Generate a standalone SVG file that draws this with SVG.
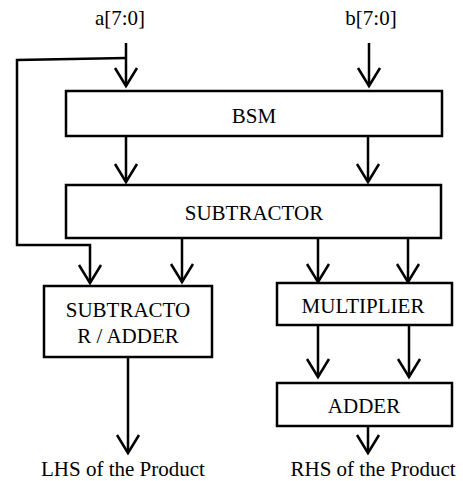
<svg xmlns="http://www.w3.org/2000/svg" width="463" height="481" viewBox="0 0 463 481">
<defs>
<style>
.box{fill:#fff;stroke:#000;stroke-width:2.5}
.ln{fill:none;stroke:#000;stroke-width:2.5}
text{font-family:'Liberation Serif','Times New Roman',serif;font-size:21px;fill:#000;text-anchor:middle}
</style>
<marker id="ah" markerUnits="userSpaceOnUse" markerWidth="30" markerHeight="30" refX="0" refY="0" orient="auto" overflow="visible">
<path d="M-18,-11 L0,0 L-18,11" fill="none" stroke="#000" stroke-width="2.5"/>
</marker>
</defs>
<rect width="463" height="481" fill="#fff"/>
<g id="connectors">
<path class="ln" d="M126,43 V86" marker-end="url(#ah)"/>
<path class="ln" d="M369,43 V86" marker-end="url(#ah)"/>
<path class="ln" d="M126,58 L17,60 V245 H90 V283" marker-end="url(#ah)"/>
<path class="ln" d="M126,136 V182" marker-end="url(#ah)"/>
<path class="ln" d="M368,136 V182" marker-end="url(#ah)"/>
<path class="ln" d="M182,238 V282" marker-end="url(#ah)"/>
<path class="ln" d="M318,234 V282" marker-end="url(#ah)"/>
<path class="ln" d="M408,238 V282" marker-end="url(#ah)"/>
<path class="ln" d="M318,325 V377" marker-end="url(#ah)"/>
<path class="ln" d="M409,325 V377" marker-end="url(#ah)"/>
<path class="ln" d="M368,426 V453" marker-end="url(#ah)"/>
<path class="ln" d="M128,357 V453" marker-end="url(#ah)"/>
</g>
<g id="input-a"><text x="120" y="25">a[7:0]</text></g>
<g id="input-b"><text x="371" y="25">b[7:0]</text></g>
<g id="bsm"><rect class="box" x="66" y="91" width="376" height="45"/><text x="254" y="123">BSM</text></g>
<g id="subtractor"><rect class="box" x="66" y="185" width="375" height="53"/><text x="254" y="220">SUBTRACTOR</text></g>
<g id="sub-adder"><rect class="box" x="44" y="286" width="168" height="71"/><text x="128" y="317">SUBTRACTO</text><text x="128" y="343">R / ADDER</text></g>
<g id="multiplier"><rect class="box" x="277" y="283" width="175" height="42"/><text x="363" y="313">MULTIPLIER</text></g>
<g id="adder"><rect class="box" x="277" y="383" width="175" height="43"/><text x="364" y="413">ADDER</text></g>
<g id="lhs"><text x="123" y="476">LHS of the Product</text></g>
<g id="rhs"><text x="373" y="476">RHS of the Product</text></g>
</svg>
